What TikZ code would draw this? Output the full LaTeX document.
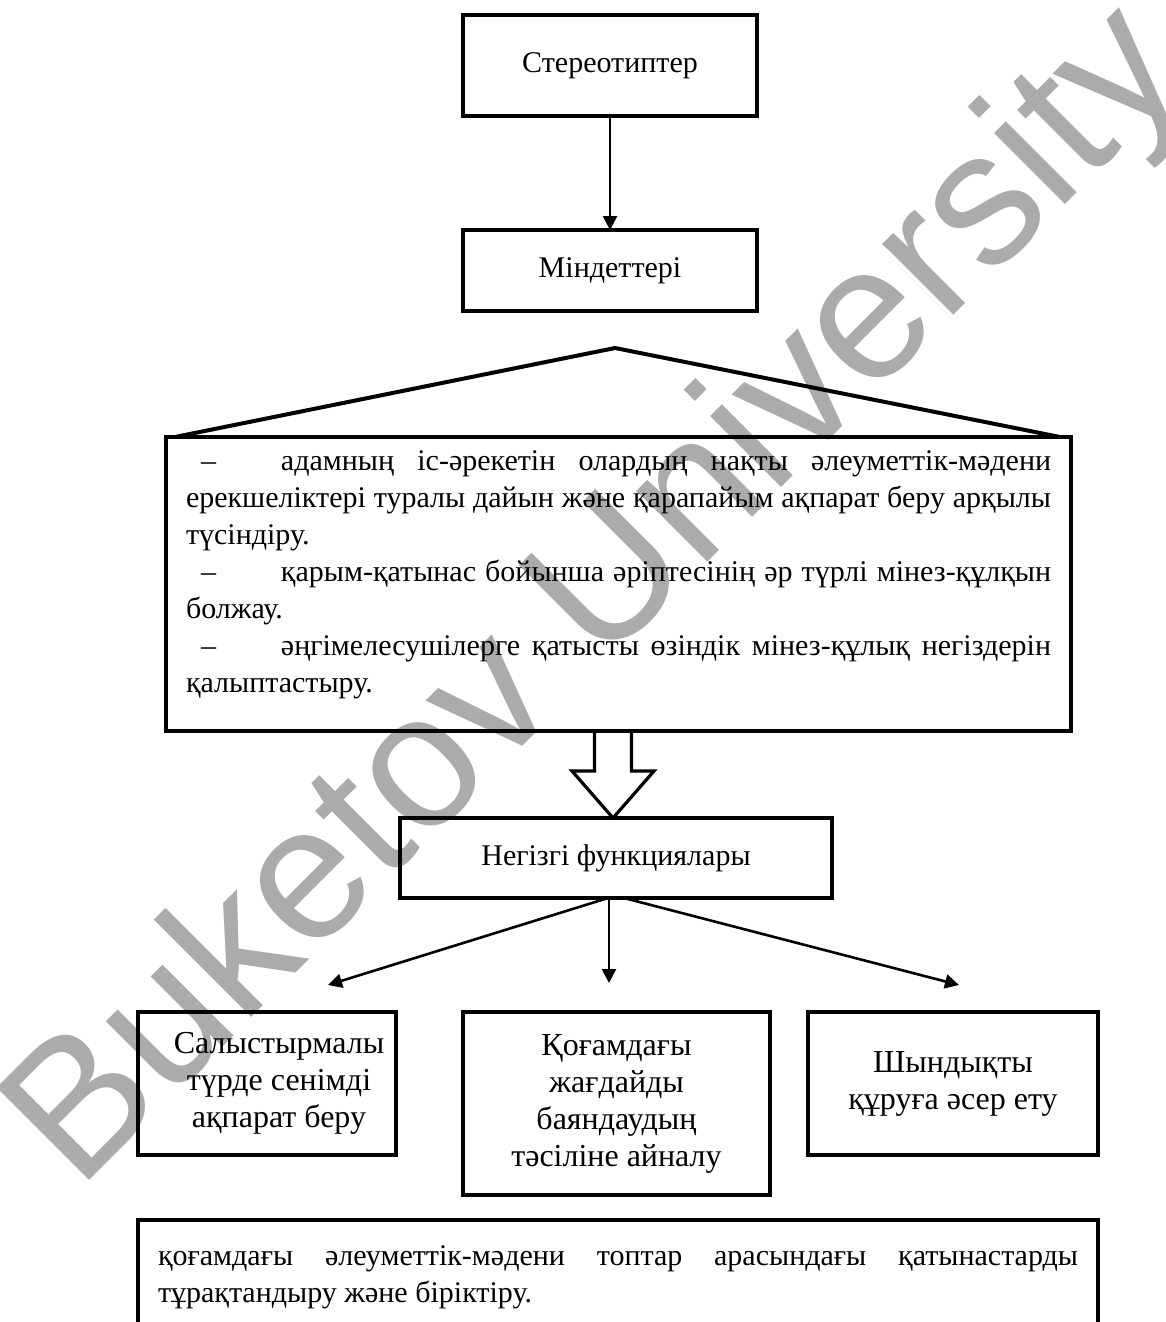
\documentclass[tikz,border=0pt]{standalone}
\usepackage{fontspec}
\setmainfont{Liberation Serif}
\newfontfamily\wmfont{Liberation Sans}
\usetikzlibrary{arrows.meta,positioning,calc}
\definecolor{wmgray}{HTML}{ABABAB}
\hyphenpenalty=10000
\exhyphenpenalty=10000
\setlength{\parindent}{0pt}
\tikzset{
  box/.style={draw, line width=2pt, outer sep=0pt, align=center, font=\fontsize{15}{18.5}\selectfont},
  headbox/.style={box, minimum width=147pt, minimum height=50.5pt},
  funcbox/.style={box, minimum width=216pt, minimum height=40pt},
  leafbox/.style={box, font=\fontsize{16}{18.5}\selectfont, minimum height=71.5pt},
  textbox/.style={box, align=justify, inner xsep=10pt, inner ysep=0pt},
  arrow/.style={-{Triangle[length=7pt,width=7pt]}, line width=1.3pt},
  roof/.style={line width=2pt, line join=miter},
  hollow/.style={line width=1.6pt, line join=miter},
  wmark/.style={text=wmgray, font=\wmfont\fontsize{95}{95}\selectfont, rotate=45, inner sep=0pt}
}
\begin{document}
\begin{tikzpicture}
\useasboundingbox (0,0) rectangle (583pt,-661pt);

% watermark
\node[wmark] (stamp) at (300pt,-300pt) {Buketov University};

\node[headbox] (stereo) at (305pt,-32.75pt) {Стереотиптер};
\node[headbox, minimum height=40.5pt, below=57pt of stereo] (duties) {Міндеттері};

\node[textbox, text width=432.5pt, minimum height=147pt, below=63pt of duties, xshift=4.25pt] (tasks) {%
\hspace*{7.5pt}\makebox[40pt][l]{–}адамның іс-әрекетін олардың нақты әлеуметтік-мәдени\linebreak
ерекшеліктері туралы дайын және қарапайым ақпарат беру арқылы\linebreak
түсіндіру.\par
\hspace*{7.5pt}\makebox[40pt][l]{–}қарым-қатынас бойынша әріптесінің әр түрлі мінез-құлқын\linebreak
болжау.\par
\hspace*{7.5pt}\makebox[40pt][l]{–}әңгімелесушілерге қатысты өзіндік мінез-құлық негіздерін\linebreak
қалыптастыру.\rule[-12pt]{0pt}{1pt}};

\node[funcbox, below=43.5pt of tasks, xshift=-1.25pt] (func) {Негізгі функциялары};

\node[leafbox, minimum width=153.5pt, minimum height=91.5pt, below=57pt of func, xshift=0.25pt] (situation)
  {Қоғамдағы\\жағдайды\\баяндаудың\\тәсіліне айналу};
\node[leafbox, minimum width=129pt, left=33.5pt of situation.north west, anchor=north east] (inform)
  {\hspace*{12pt}Салыстырмалы\\\hspace*{12pt}түрде сенімді\\\hspace*{12pt}ақпарат беру};
\node[leafbox, minimum width=145pt, right=19pt of situation.north east, anchor=north west] (reality)
  {Шындықты\\құруға әсер ету};

\node[textbox, text width=460pt, minimum height=57pt, below=12.5pt of situation, xshift=0.75pt] (unite) {%
қоғамдағы әлеуметтік-мәдени топтар арасындағы қатынастарды\linebreak
тұрақтандыру және біріктіру.};

\draw[arrow] (stereo) -- (duties);

% the roof over the task list
\draw[roof] ($(tasks.north west)+(4.5pt,0)$) -- ($(tasks.north)+(-1.75pt,44.5pt)$)
  -- ($(tasks.north east)+(-5.5pt,0)$);

% hollow arrow down to the functions
\coordinate (tip) at ($(func.north)+(-1.5pt,0)$);
\coordinate (root) at (tip |- tasks.south);
\draw[hollow] ($(root)+(-9.25pt,0)$) -- ($(tip)+(-9.25pt,23.5pt)$)
  -- ($(tip)+(-20.5pt,23.5pt)$) -- (tip) -- ($(tip)+(20.5pt,23.5pt)$)
  -- ($(tip)+(9.25pt,23.5pt)$) -- ($(root)+(9.25pt,0)$);

\coordinate (toInform) at ($(func.south)+(-144pt,-43.5pt)$);
\coordinate (toSituation) at ($(func.south)+(-3.5pt,-42.5pt)$);
\coordinate (toReality) at ($(func.south)+(171.5pt,-43.5pt)$);
\draw[arrow] ($(func.south)+(-4pt,0)$) -- (toInform);
\draw[arrow] ($(func.south)+(-3.5pt,0)$) -- (toSituation);
\draw[arrow] ($(func.south)+(4pt,0)$) -- (toReality);
\end{tikzpicture}
\end{document}
